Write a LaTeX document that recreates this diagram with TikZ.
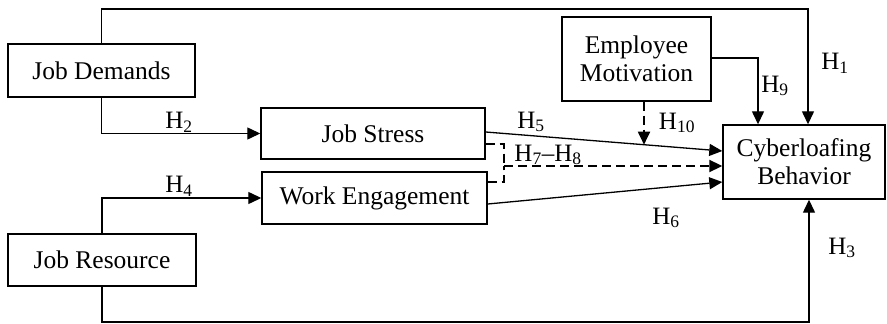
\documentclass[tikz,border=0pt]{standalone}
\usepackage{fontspec}
\setmainfont{Liberation Serif}
\usetikzlibrary{arrows.meta}
\begin{document}
\begin{tikzpicture}[x=1pt,y=-1pt,
  box/.style={draw,line width=1.4pt,rectangle,inner sep=0pt,align=center,font=\fontsize{25.5}{28}\selectfont},
  lab/.style={inner sep=0pt,font=\fontsize{25}{27}\selectfont},
  conn/.style={line width=1.3pt},
  arr/.style={conn,-{Triangle[length=13pt,width=12pt]}},
  dsh/.style={line width=1.9pt,dash pattern=on 9pt off 5pt},
  dsharr/.style={dsh,-{Triangle[length=13pt,width=12pt]}}]
\useasboundingbox (0,0) rectangle (887,324);
\node[box,minimum width=187pt,minimum height=53pt] (JD) at (101.5,70.5) {Job Demands};
\node[box,minimum width=224pt,minimum height=51pt] (JS) at (373,133.5) {Job Stress};
\node[box,minimum width=225pt,minimum height=52pt] (WE) at (374.5,198) {Work Engagement};
\node[box,minimum width=188pt,minimum height=52pt] (JR) at (102,260) {Job Resource};
\node[box,minimum width=149pt,minimum height=84pt] (EM) at (636.5,59) {Employee\\Motivation};
\node[box,minimum width=162pt,minimum height=74pt] (CB) at (804,162) {Cyberloafing\\Behavior};
\coordinate (top) at (0,9);
\coordinate (bot) at (0,322);
\coordinate (j) at (504,166);
% H1
\draw[arr] (JD.north) -- (JD.north |- top) -| ([xshift=4pt]CB.north);
% H2
\draw[arr] (JD.south) |- (JS.west);
% H4
\draw[arr] (JR.north) |- (WE.west);
% H3
\draw[arr] (JR.south) -- (JR.south |- bot) -| ([xshift=5pt]CB.south);
% H9
\draw[arr] ([yshift=1pt]EM.east) -| ([xshift=-46pt]CB.north);
% H5
\draw[arr] (JS.east |- 0,132) -- (CB.west |- 0,151) coordinate[pos=0.668] (m);
% H6
\draw[arr] (WE.east |- 0,204) -- (CB.west |- 0,182);
% H10
\draw[dsharr] ([xshift=7.5pt]EM.south) -- ([xshift=7.5pt]EM.south |- m);
% H7-H8
\draw[dsh] (JS.east |- 0,144) -| (j);
\draw[dsh] (WE.east |- 0,182) -| (j);
\draw[dsharr] (j) -- (CB.west |- j);
% labels
\node[lab] (l2) at (179,122) {H\textsubscript{2}};
\node[lab] (l4) at (179,186) {H\textsubscript{4}};
\node[lab] (l5) at (531,122) {H\textsubscript{5}};
\node[lab] (l78) at (548,155) {H\textsubscript{7}–H\textsubscript{8}};
\node[lab] (l10) at (677,123) {H\textsubscript{10}};
\node[lab] (l9) at (775,86) {H\textsubscript{9}};
\node[lab] (l1) at (835,63) {H\textsubscript{1}};
\node[lab] (l6) at (666,218) {H\textsubscript{6}};
\node[lab] (l3) at (842,248) {H\textsubscript{3}};
\end{tikzpicture}
\end{document}
